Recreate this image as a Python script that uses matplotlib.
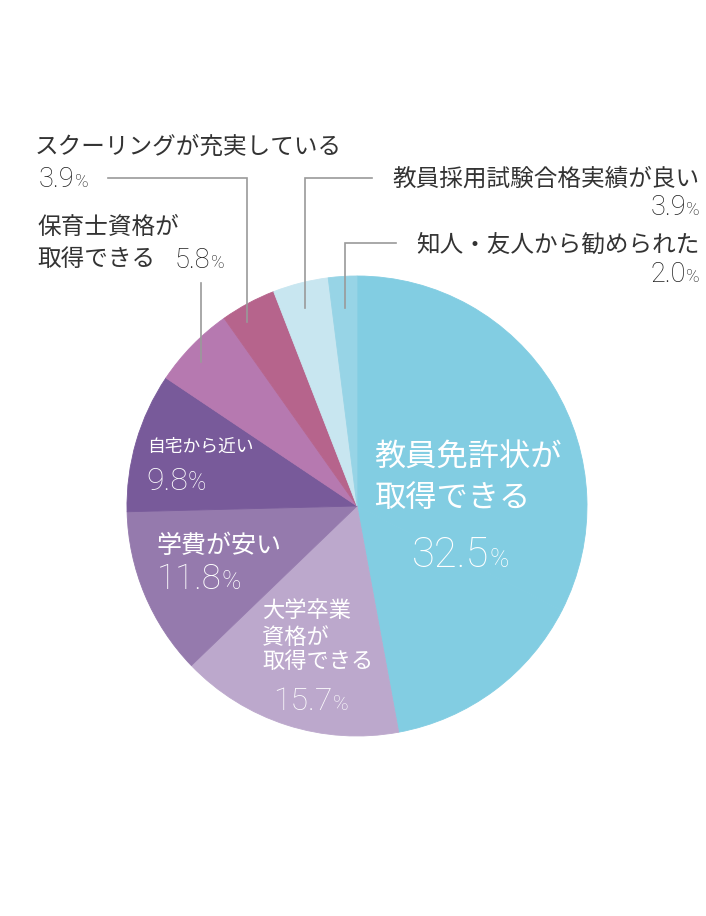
import numpy as np
import matplotlib
matplotlib.use('Agg')
import matplotlib.pyplot as plt

plt.rcParams['font.family'] = ['Noto Sans CJK JP', 'DejaVu Sans']

# data (percent)
labels = ['教員免許状が取得できる', 'その他', '大学卒業資格が取得できる', '学費が安い', '自宅から近い',
          '保育士資格が取得できる', 'スクーリングが充実している', '教員採用試験合格実績が良い',
          '知人・友人から勧められた']
values = [32.5, 14.6, 15.7, 11.8, 9.8, 5.8, 3.9, 3.9, 2.0]
pct_text = ['32.5', '', '15.7', '11.8', '9.8', '5.8', '3.9', '3.9', '2.0']
colors = ['#82cde2', '#82cde2', '#bca8cc', '#957aad', '#785a9a', '#b679b0',
          '#b6648c', '#c8e6f0', '#97d4e6']

JP = ['Noto Sans CJK JP', 'DejaVu Sans']
NUM = ['Roboto', 'DejaVu Sans']
DARK = '#333333'
LINE = '#9a9a9a'

W, H = 706, 916
fig = plt.figure(figsize=(W / 100, H / 100), dpi=100)
ax = fig.add_axes([0, 0, 1, 1])

cx, cy, R = 357, 506, 230
# y axis is inverted (pixel coords), so counterclock=True draws clockwise on screen
wedges, _ = ax.pie(values, colors=colors, startangle=-90, counterclock=True,
                   center=(cx, cy), radius=R)
for w, c in zip(wedges, colors):
    w.set_edgecolor(c)
    w.set_linewidth(0.6)
ax.set_xlim(0, W)
ax.set_ylim(H, 0)
ax.set_aspect('equal')
ax.axis('off')

fig.canvas.draw()
rend = fig.canvas.get_renderer()
inv = ax.transData.inverted()


def pct(x, y, num, size, color, ha='left', ratio=0.7, weight='light'):
    # number + smaller percent sign on a shared baseline
    kw = dict(color=color, family=NUM, weight=weight, va='baseline')
    if ha == 'left':
        t = ax.text(x, y, num, fontsize=size, ha='left', **kw)
        bb = t.get_window_extent(rend)
        x1 = inv.transform((bb.x1, bb.y0))[0]
        ax.text(x1, y, '%', fontsize=size * ratio, ha='left', **kw)
    else:
        p = ax.text(x, y, '%', fontsize=size * ratio, ha='right', **kw)
        bb = p.get_window_extent(rend)
        x0 = inv.transform((bb.x0, bb.y0))[0]
        ax.text(x0, y, num, fontsize=size, ha='right', **kw)


def lines(x, ys, txts, size, color, ha='left'):
    for y, s in zip(ys, txts):
        ax.text(x, y, s, fontsize=size, color=color, family=JP, va='center', ha=ha)


def anchor(i, f, rr):
    # point inside wedge i: fraction f of its sweep, radius rr
    w = wedges[i]
    th = np.deg2rad(w.theta1 + f * (w.theta2 - w.theta1))
    return cx + rr * np.cos(th), cy + rr * np.sin(th)


# labels inside the pie
lines(374, [458, 498], ['教員免許状が', '取得できる'], 22.5, 'white')
pct(412, 567, pct_text[0], 30, 'white', ratio=0.62)

lines(262, [611, 637, 662], ['大学卒業', '資格が', '取得できる'], 16, 'white')
pct(273, 710, pct_text[2], 23, 'white', ratio=0.66)

lines(157, [546], ['学費が安い'], 18, 'white')
pct(157, 589, pct_text[3], 25, 'white', ratio=0.75)

lines(147, [447], ['自宅から近い'], 12.8, 'white')
pct(146, 490, pct_text[4], 23, 'white', ratio=0.77)

# labels outside with leader lines
NUMC = '#1e1e1e'
lines(35, [147], ['スクーリングが充実している'], 17, DARK)
pct(39, 187, pct_text[6], 19.5, NUMC, ratio=0.68)
ax_, ay_ = anchor(6, 0.31, 214)
ax.plot([108, ax_, ax_], [178, 178, ay_], color=LINE, lw=1.2, solid_joinstyle='miter')

lines(37, [227, 259], ['保育士資格が', '取得できる'], 17, DARK)
pct(175, 268, pct_text[5], 19.5, NUMC, ratio=0.68)
ax_, ay_ = anchor(5, 0.43, 212)
ax.plot([ax_, ax_], [283, ay_], color=LINE, lw=1.2)

lines(700, [179], ['教員採用試験合格実績が良い'], 17, DARK, ha='right')
pct(700, 215, pct_text[7], 19.5, NUMC, ha='right', ratio=0.68)
ax_, ay_ = anchor(7, 0.46, 205)
ax.plot([372, ax_, ax_], [178, 178, ay_], color=LINE, lw=1.2, solid_joinstyle='miter')

lines(700, [245], ['知人・友人から勧められた'], 17, DARK, ha='right')
pct(700, 282, pct_text[8], 19.5, NUMC, ha='right', ratio=0.68)
ax_, ay_ = anchor(8, 0.51, 198)
ax.plot([396, ax_, ax_], [243, 243, ay_], color=LINE, lw=1.2, solid_joinstyle='miter')

fig.savefig('out.png', dpi=100, facecolor='white')
